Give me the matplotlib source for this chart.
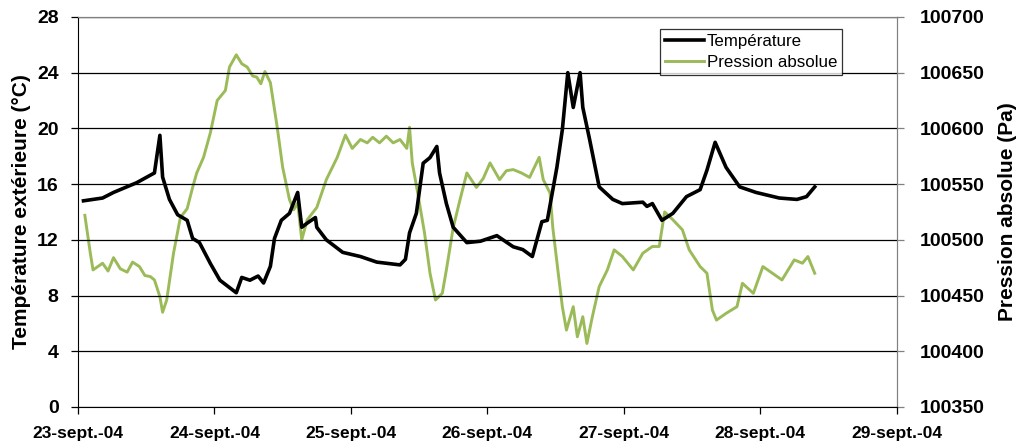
import matplotlib
matplotlib.use("Agg")
import matplotlib.pyplot as plt

# ---- data (days since 23-sept.-04 00:00) ----
temp_days = [0.04, 0.18, 0.26, 0.43, 0.56, 0.60, 0.62, 0.67, 0.73, 0.80, 0.84, 0.89, 0.97,
             1.04, 1.16, 1.20, 1.26, 1.32, 1.36, 1.41, 1.44, 1.49, 1.55, 1.61, 1.64, 1.68,
             1.74, 1.75, 1.82, 1.94, 2.07, 2.19, 2.36, 2.40, 2.43, 2.48, 2.53, 2.58, 2.63,
             2.65, 2.70, 2.75, 2.85, 2.95, 3.07, 3.19, 3.26, 3.33, 3.40, 3.44, 3.51, 3.55,
             3.59, 3.63, 3.68, 3.70, 3.75, 3.82, 3.92, 3.99, 4.14, 4.17, 4.21, 4.28, 4.36,
             4.46, 4.56, 4.61, 4.67, 4.75, 4.85, 4.97, 5.14, 5.27, 5.34, 5.40]
temp_vals = [14.8, 15.0, 15.4, 16.1, 16.8, 19.5, 16.5, 14.9, 13.8, 13.4, 12.1, 11.8, 10.3,
             9.1, 8.2, 9.3, 9.1, 9.4, 8.9, 10.1, 12.1, 13.4, 13.9, 15.4, 12.9, 13.2,
             13.6, 12.9, 12.0, 11.1, 10.8, 10.4, 10.2, 10.6, 12.5, 13.9, 17.5, 17.9, 18.7,
             16.8, 14.6, 12.9, 11.8, 11.9, 12.3, 11.5, 11.3, 10.8, 13.3, 13.4, 17.2, 19.9,
             24.0, 21.5, 24.0, 21.5, 19.2, 15.8, 14.9, 14.6, 14.7, 14.4, 14.6, 13.4, 13.9,
             15.1, 15.6, 17.0, 19.0, 17.2, 15.8, 15.4, 15.0, 14.9, 15.1, 15.8]

pres_days = [0.05, 0.09, 0.11, 0.18, 0.22, 0.26, 0.31, 0.36, 0.40, 0.45, 0.49, 0.53, 0.56,
             0.60, 0.62, 0.65, 0.70, 0.75, 0.80, 0.84, 0.87, 0.92, 0.97, 1.02, 1.08, 1.11,
             1.16, 1.20, 1.24, 1.28, 1.31, 1.34, 1.37, 1.41, 1.46, 1.50, 1.55, 1.58, 1.61,
             1.64, 1.68, 1.75, 1.82, 1.90, 1.96, 2.01, 2.07, 2.12, 2.16, 2.21, 2.26, 2.31,
             2.36, 2.41, 2.43, 2.45, 2.49, 2.54, 2.58, 2.62, 2.67, 2.70, 2.75, 2.80, 2.85,
             2.92, 2.97, 3.02, 3.09, 3.14, 3.19, 3.25, 3.31, 3.38, 3.41, 3.46, 3.48, 3.52,
             3.55, 3.58, 3.63, 3.66, 3.70, 3.73, 3.77, 3.82, 3.88, 3.93, 3.99, 4.07, 4.14,
             4.21, 4.26, 4.30, 4.36, 4.43, 4.48, 4.56, 4.61, 4.65, 4.68, 4.75, 4.83, 4.87,
             4.95, 5.02, 5.09, 5.16, 5.25, 5.31, 5.35, 5.40]
pres_vals = [100522, 100488, 100473, 100479, 100472, 100484, 100474, 100471, 100480, 100476,
             100468, 100467, 100464, 100449, 100435, 100446, 100488, 100520, 100528, 100547,
             100560, 100574, 100596, 100625, 100634, 100655, 100666, 100658, 100655, 100647,
             100646, 100640, 100651, 100641, 100601, 100565, 100536, 100527, 100533, 100500,
             100518, 100529, 100554, 100574, 100594, 100582, 100590, 100587, 100592, 100587,
             100593, 100587, 100590, 100582, 100601, 100569, 100542, 100506, 100470, 100446,
             100452, 100473, 100511, 100536, 100560, 100547, 100555, 100569, 100554, 100562,
             100563, 100560, 100556, 100574, 100554, 100542, 100511, 100470, 100440, 100419,
             100440, 100413, 100431, 100407, 100431, 100458, 100473, 100491, 100485, 100473,
             100488, 100494, 100494, 100525, 100518, 100509, 100491, 100476, 100470, 100437,
             100428, 100434, 100440, 100461, 100452, 100476, 100470, 100464, 100482, 100479,
             100485, 100470]

date_labels = ["23-sept.-04", "24-sept.-04", "25-sept.-04", "26-sept.-04",
               "27-sept.-04", "28-sept.-04", "29-sept.-04"]
left_ticks = [0, 4, 8, 12, 16, 20, 24, 28]
right_ticks = [100350, 100400, 100450, 100500, 100550, 100600, 100650, 100700]

plt.rcParams["font.family"] = ["Liberation Sans", "DejaVu Sans"]

GREEN = "#9BBB59"

fig = plt.figure(figsize=(10.2, 4.45), dpi=100)
ax = fig.add_axes([0.0765, 0.0854, 0.8025, 0.8766])
ax2 = ax.twinx()

ax.set_xlim(0, 6)
ax.set_ylim(0, 28)
ax2.set_ylim(100350, 100700)

ax.set_yticks(left_ticks)
ax2.set_yticks(right_ticks)
ax.set_xticks(range(len(date_labels)))
ax.set_xticklabels(date_labels)

ax.grid(axis="y", color="black", linewidth=0.9)
ax.set_axisbelow(True)

l1, = ax.plot(temp_days, temp_vals, color="black", linewidth=2.6, label="Température", zorder=3)
l2, = ax2.plot(pres_days, pres_vals, color=GREEN, linewidth=2.1, label="Pression absolue", zorder=2)
ax.set_zorder(ax2.get_zorder() + 1)
ax.patch.set_visible(False)

ax.tick_params(axis="y", direction="out", length=5, width=0.9, pad=9, labelsize=14)
ax.tick_params(axis="x", direction="out", length=5, width=0.9, pad=9, labelsize=12.5)
ax2.tick_params(axis="y", direction="out", length=5, width=0.9, pad=12, labelsize=14,
                color="#808080", labelcolor="black")
for a in (ax, ax2):
    for lab in a.get_yticklabels() + a.get_xticklabels():
        lab.set_fontweight("bold")

ax.spines["left"].set_color("black")
ax.spines["bottom"].set_color("black")
ax.spines["top"].set_color("#808080")
ax.spines["right"].set_color("#808080")
ax2.spines["right"].set_color("#808080")
ax2.spines["top"].set_color("#808080")
ax2.spines["left"].set_visible(False)
ax2.spines["bottom"].set_visible(False)

ax.set_ylabel("Température extérieure (°C)", fontsize=15, fontweight="bold", labelpad=4)
ax2.set_ylabel("Pression absolue (Pa)", fontsize=15, fontweight="bold", labelpad=9)

leg = ax.legend(handles=[l1, l2], loc="upper left", bbox_to_anchor=(0.711, 0.969),
                frameon=True, fancybox=False, edgecolor="black", fontsize=12.2,
                handlelength=2.3, handletextpad=0.15, borderpad=0.3, labelspacing=0.35,
                borderaxespad=0)
leg.get_frame().set_linewidth(0.9)
leg.set_zorder(10)

fig.savefig("out.png", dpi=100)
